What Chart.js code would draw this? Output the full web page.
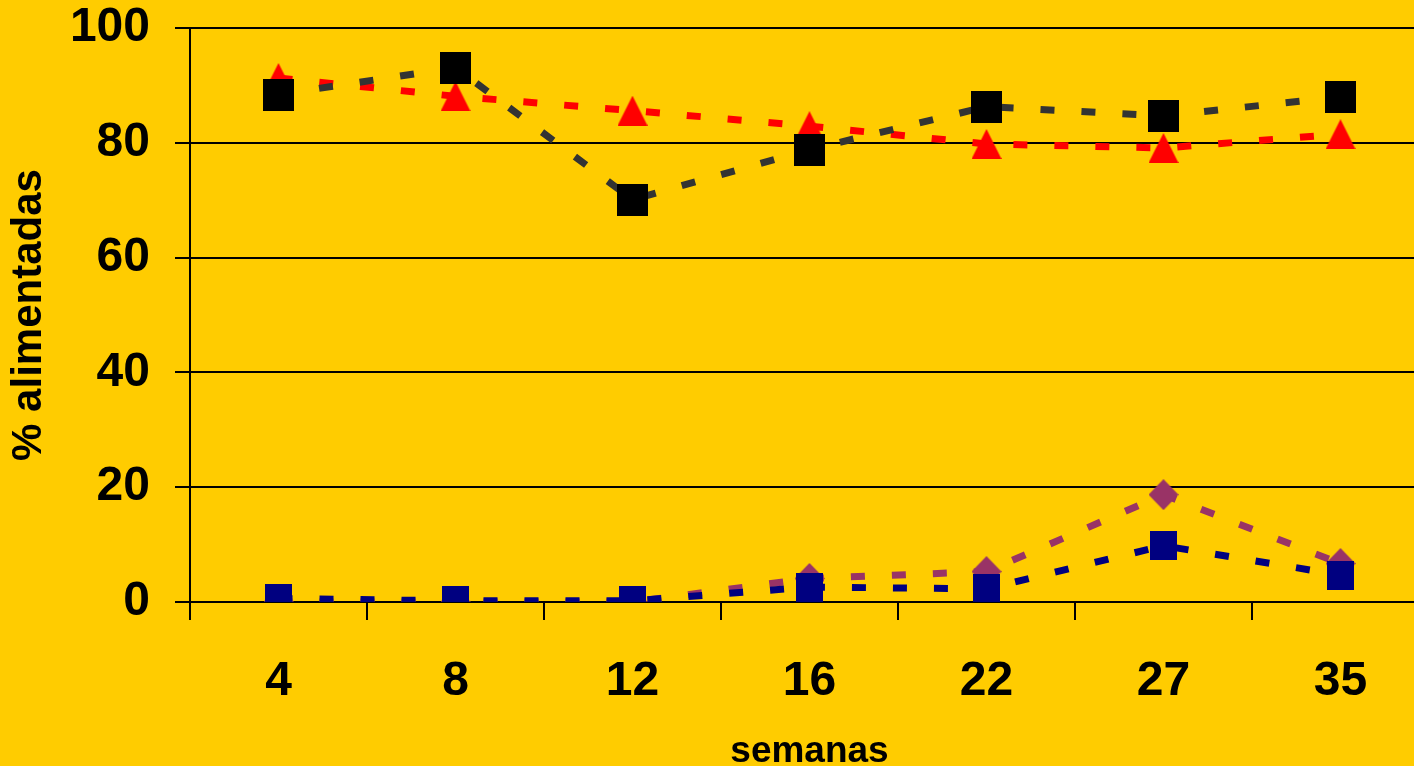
<!DOCTYPE html>
<html>
<head>
<meta charset="utf-8">
<script src="https://cdn.jsdelivr.net/npm/chart.js@4.4.1/dist/chart.umd.min.js"></script>
<style>
  html, body { margin: 0; padding: 0; background: #FFCC00; overflow: hidden; width: 1414px; height: 766px; }
  #wrap { position: absolute; left: 0; top: 0; width: 1429px; height: 766px; }
</style>
</head>
<body>
<div id="wrap"><canvas id="c" width="1429" height="766"></canvas></div>
<script>
const categories = ['4', '8', '12', '16', '22', '27', '35'];
const seriesBlack = [88.4, 93.1, 70.1, 78.8, 86.3, 84.7, 88.0];
const seriesRed = [91.3, 88.1, 85.6, 82.9, 79.8, 79.1, 81.5];
const seriesNavy = [0.6, 0.2, 0.2, 2.6, 2.3, 9.8, 4.7];
const seriesPurple = [0, 0, 0, 4.1, 5.3, 18.7, 6.7];
const yTicks = [0, 20, 40, 60, 80, 100];

function makeMarker(shape, w, h, color) {
  const c = document.createElement('canvas');
  c.width = w; c.height = h;
  const g = c.getContext('2d');
  g.fillStyle = color;
  g.beginPath();
  if (shape === 'square') {
    g.rect(0, 0, w, h);
  } else if (shape === 'triangle') {
    g.moveTo(w / 2, 0); g.lineTo(w, h); g.lineTo(0, h); g.closePath();
  } else if (shape === 'diamond') {
    g.moveTo(w / 2, 0); g.lineTo(w, h / 2); g.lineTo(w / 2, h); g.lineTo(0, h / 2); g.closePath();
  }
  g.fill();
  return c;
}

const FONT = "'Liberation Sans', Arial, sans-serif";
const dash = [14, 27];

const datasets = [
  { data: seriesBlack, borderColor: '#333333', borderDash: dash, pointStyle: makeMarker('square', 31, 32, '#000000') },
  { data: seriesRed, borderColor: '#FF0000', borderDash: dash, pointStyle: makeMarker('triangle', 30, 30, '#FF0000') },
  { data: seriesNavy, borderColor: '#000080', borderDash: dash, pointStyle: makeMarker('square', 27, 29, '#000080') },
  { data: seriesPurple, borderColor: '#993366', borderDash: dash, pointStyle: makeMarker('diamond', 30, 31, '#993366') }
].map(d => Object.assign({
  borderWidth: 7,
  borderCapStyle: 'butt',
  fill: false,
  tension: 0,
  pointRadius: 16,
  pointHoverRadius: 16
}, d));

new Chart(document.getElementById('c'), {
  type: 'line',
  data: { labels: categories, datasets },
  options: {
    responsive: false,
    animation: false,
    devicePixelRatio: 1,
    layout: { autoPadding: false, padding: { top: 28, right: 0, bottom: 0, left: 0 } },
    plugins: { legend: { display: false }, tooltip: { enabled: false } },
    scales: {
      x: {
        offset: true,
        grid: { display: true, drawOnChartArea: false, drawTicks: true, tickLength: 18, color: '#000000', lineWidth: 2, offset: true },
        border: { display: true, color: '#000000', width: 2 },
        ticks: { color: '#000000', padding: 34, font: { family: FONT, size: 48, weight: 'bold', lineHeight: 1.17 }, maxRotation: 0 },
        title: { display: true, text: 'semanas', color: '#000000', font: { family: FONT, size: 37, weight: 'bold', lineHeight: 0.78 }, padding: { top: 0, bottom: 0 } },
        afterFit: s => { s.height = 164; s.paddingLeft = 0; s.paddingRight = 0; }
      },
      y: {
        min: 0, max: 100,
        afterBuildTicks: s => { s.ticks = yTicks.map(v => ({ value: v })); },
        grid: { color: '#000000', lineWidth: 2, tickLength: 15, drawTicks: true },
        border: { display: true, color: '#000000', width: 2 },
        ticks: { color: '#000000', padding: 25, font: { family: FONT, size: 48, weight: 'bold', lineHeight: 1.17 } },
        title: { display: true, text: '% alimentadas', color: '#000000', font: { family: FONT, size: 42, weight: 'bold', lineHeight: 1.2 }, padding: { top: 4, bottom: 0 } },
        afterFit: s => { s.width = 190; s.paddingTop = 0; s.paddingBottom = 0; }
      }
    }
  }
});
</script>
</body>
</html>
